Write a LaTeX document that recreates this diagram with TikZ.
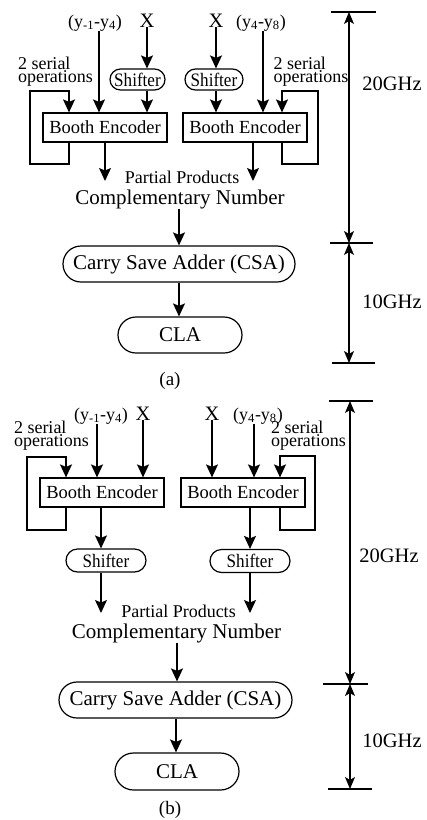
\documentclass[tikz,border=0pt]{standalone}
\usepackage{fontspec}
\setmainfont{Liberation Serif}
\newfontfamily\narrowSerif[FakeStretch = 0.9]{Liberation Serif}
\usetikzlibrary{arrows.meta,shapes.misc}
\newcommand{\tightLines}{\lineskiplimit=-20pt\relax}
\tikzstyle{encoderBox}=[shape = rectangle, draw, line width = 1.2pt, minimum width = 124pt, minimum height = 29pt, inner sep = 0pt, font = \fontsize{18.5}{20}\selectfont]
\tikzstyle{shifterBox}=[shape = rounded rectangle, draw, line width = 1.2pt, minimum height = 21pt, inner sep = 0pt, font = \narrowSerif\fontsize{19}{20}\selectfont]
\tikzstyle{adderBox}=[shape = rounded rectangle, draw, line width = 1.2pt, minimum height = 36pt, inner sep = 0pt, font = \fontsize{21}{24}\selectfont]
\tikzstyle{labelText}=[inner sep = 0pt, anchor = base, font = \fontsize{18}{20}\selectfont]
\tikzstyle{bigText}=[inner sep = 0pt, anchor = base, font = \fontsize{20.5}{24}\selectfont]
\tikzstyle{serialText}=[inner sep = 0pt, align = left, font = \fontsize{18}{12}\selectfont]

\begin{document}
\begin{tikzpicture}[x = 1pt, y = -1pt]
\tikzstyle{bigArrow}=[-{Stealth[length = 13pt, width = 12pt, inset = 2.5pt]}, line width = 1.25pt]
\tikzstyle{dimArrow}=[{Stealth[length = 12pt, width = 10pt, inset = 3pt]}-{Stealth[length = 12pt, width = 10pt, inset = 3pt]}, line width = 1.1pt]
\tikzstyle{tickLine}=[line width = 1.2pt]
\path[fill = white] (0, 0) rectangle (427, 820);

% (a) shifters before the encoders
\node[labelText] (ya0) at (95, 27) {(y\textsubscript{-1}-y\textsubscript{4})};
\node[bigText] (xa1) at (147, 27) {X};
\node[bigText] (xa2) at (216, 27) {X};
\node[labelText] (ya1) at (261, 27) {(y\textsubscript{4}-y\textsubscript{8})};
\node[serialText] (sra1) at (55.5, 72) {\tightLines 2 serial\\operations};
\node[serialText] (sra2) at (311, 72) {\tightLines 2 serial\\operations};
\node[shifterBox, minimum width = 55pt] (sha1) at (137.5, 79.5) {Shifter};
\node[shifterBox, minimum width = 58pt] (sha2) at (214, 79.5) {Shifter};
\node[encoderBox] (bea1) at (105, 127.5) {Booth Encoder};
\node[encoderBox] (bea2) at (245, 127.5) {Booth Encoder};
\node[labelText] (ppa) at (182, 183) {Partial Products};
\node[bigText, font = \fontsize{21}{24}\selectfont] (cna) at (180, 204) {Complementary Number};
\node[adderBox, minimum width = 232pt] (csaa) at (179, 264) {Carry Save Adder (CSA)};
\node[adderBox, minimum width = 124pt] (claa) at (180, 335) {CLA};
\node[labelText, font = \fontsize{19}{20}\selectfont] (capa) at (170, 385) {(a)};
\coordinate (ppa0) at (105, 181);
\coordinate (ppa1) at (253, 181);

\draw[bigArrow] (ya0.south -| 99,0) -- (99,0 |- bea1.north);
\draw[bigArrow] (xa1.south) -- (sha1.north -| xa1);
\draw[bigArrow] (sha1.south -| xa1) -- (bea1.north -| xa1);
\draw[bigArrow] (xa2.south) -- (sha2.north -| xa2);
\draw[bigArrow] (sha2.south -| xa2) -- (bea2.north -| xa2);
\draw[bigArrow] (ya1.south -| 263,0) -- (263,0 |- bea2.north);
\draw[bigArrow] (bea1.south -| 69,0) |- (30, 164) |- (69, 91) -- (69,0 |- bea1.north);
\draw[bigArrow] (bea2.south -| 282,0) |- (318, 164) |- (282, 91) -- (282,0 |- bea2.north);
\draw[bigArrow] (bea1.south -| ppa0) -- (ppa0);
\draw[bigArrow] (bea2.south -| ppa1) -- (ppa1);
\draw[bigArrow] (cna.south -| csaa.north) -- (csaa.north);
\draw[bigArrow] (csaa.south) -- (claa.north -| csaa.south);

% (a) clock domains
\coordinate (da0) at (349, 12);
\coordinate (da1) at (349, 243);
\coordinate (da2) at (349, 363);
\draw[tickLine] ([xshift = -18pt] da0) -- ([xshift = 27pt] da0);
\draw[tickLine] ([xshift = -19pt] da1) -- ([xshift = 24pt] da1);
\draw[tickLine] ([xshift = -17pt] da2) -- ([xshift = 26pt] da2);
\draw[dimArrow] (da0) -- (da1);
\draw[dimArrow] (da1) -- (da2);
\node[bigText] (ga0) at (392, 90) {20GHz};
\node[bigText] (ga1) at (392, 308) {10GHz};

% (b) shifters after the encoders
\node[labelText] (yb0) at (101, 420) {(y\textsubscript{-1}-y\textsubscript{4})};
\node[bigText] (xb1) at (143, 420) {X};
\node[bigText] (xb2) at (212, 420) {X};
\node[labelText] (yb1) at (258, 420) {(y\textsubscript{4}-y\textsubscript{8})};
\node[serialText] (srb1) at (51.5, 436) {\tightLines 2 serial\\operations};
\node[serialText] (srb2) at (308.5, 436) {\tightLines 2 serial\\operations};
\node[encoderBox] (beb1) at (102, 492.5) {Booth Encoder};
\node[encoderBox] (beb2) at (243, 492.5) {Booth Encoder};
\node[shifterBox, minimum width = 80pt, minimum height = 23pt] (shb1) at (106, 560.5) {Shifter};
\node[shifterBox, minimum width = 80pt, minimum height = 23pt] (shb2) at (250, 561) {Shifter};
\node[labelText] (ppb) at (178.5, 617) {Partial Products};
\node[bigText, font = \fontsize{21}{24}\selectfont] (cnb) at (176.5, 638) {Complementary Number};
\node[adderBox, minimum width = 233pt] (csab) at (175.5, 700) {Carry Save Adder (CSA)};
\node[adderBox, minimum width = 124pt, minimum height = 37pt] (clab) at (177, 771.5) {CLA};
\node[labelText, font = \fontsize{19}{20}\selectfont] (capb) at (170, 814) {(b)};
\coordinate (ppb0) at (101, 613);
\coordinate (ppb1) at (250, 613);

\draw[bigArrow] (yb0.south -| 97,0) -- (97,0 |- beb1.north);
\draw[bigArrow] (xb1.south) -- (beb1.north -| xb1);
\draw[bigArrow] (xb2.south) -- (beb2.north -| xb2);
\draw[bigArrow] (yb1.south -| 254,0) -- (254,0 |- beb2.north);
\draw[bigArrow] (beb1.south -| 66,0) |- (27, 530) |- (66, 457) -- (66,0 |- beb1.north);
\draw[bigArrow] (beb2.south -| 280,0) |- (315, 530) |- (280, 456) -- (280,0 |- beb2.north);
\draw[bigArrow] (beb1.south -| ppb0) -- (shb1.north -| ppb0);
\draw[bigArrow] (beb2.south -| ppb1) -- (shb2.north -| ppb1);
\draw[bigArrow] (shb1.south -| ppb0) -- (ppb0);
\draw[bigArrow] (shb2.south -| ppb1) -- (ppb1);
\draw[bigArrow] (cnb.south -| 177,0) -- (177,0 |- csab.north);
\draw[bigArrow] (csab.south -| 176,0) -- (176,0 |- clab.north);

% (b) clock domains
\coordinate (db0) at (350, 401);
\coordinate (db1) at (350, 684);
\coordinate (db2) at (350, 789);
\draw[tickLine] ([xshift = -21pt] db0) -- ([xshift = 23pt] db0);
\draw[tickLine] ([xshift = -27pt] db1) -- ([xshift = 18pt] db1);
\draw[tickLine] ([xshift = -22pt] db2) -- ([xshift = 22pt] db2);
\draw[dimArrow] (db0) -- (db1);
\draw[dimArrow] (db1) -- (db2);
\node[bigText] (gb0) at (389, 562) {20GHz};
\node[bigText] (gb1) at (392, 747) {10GHz};
\end{tikzpicture}
\end{document}
